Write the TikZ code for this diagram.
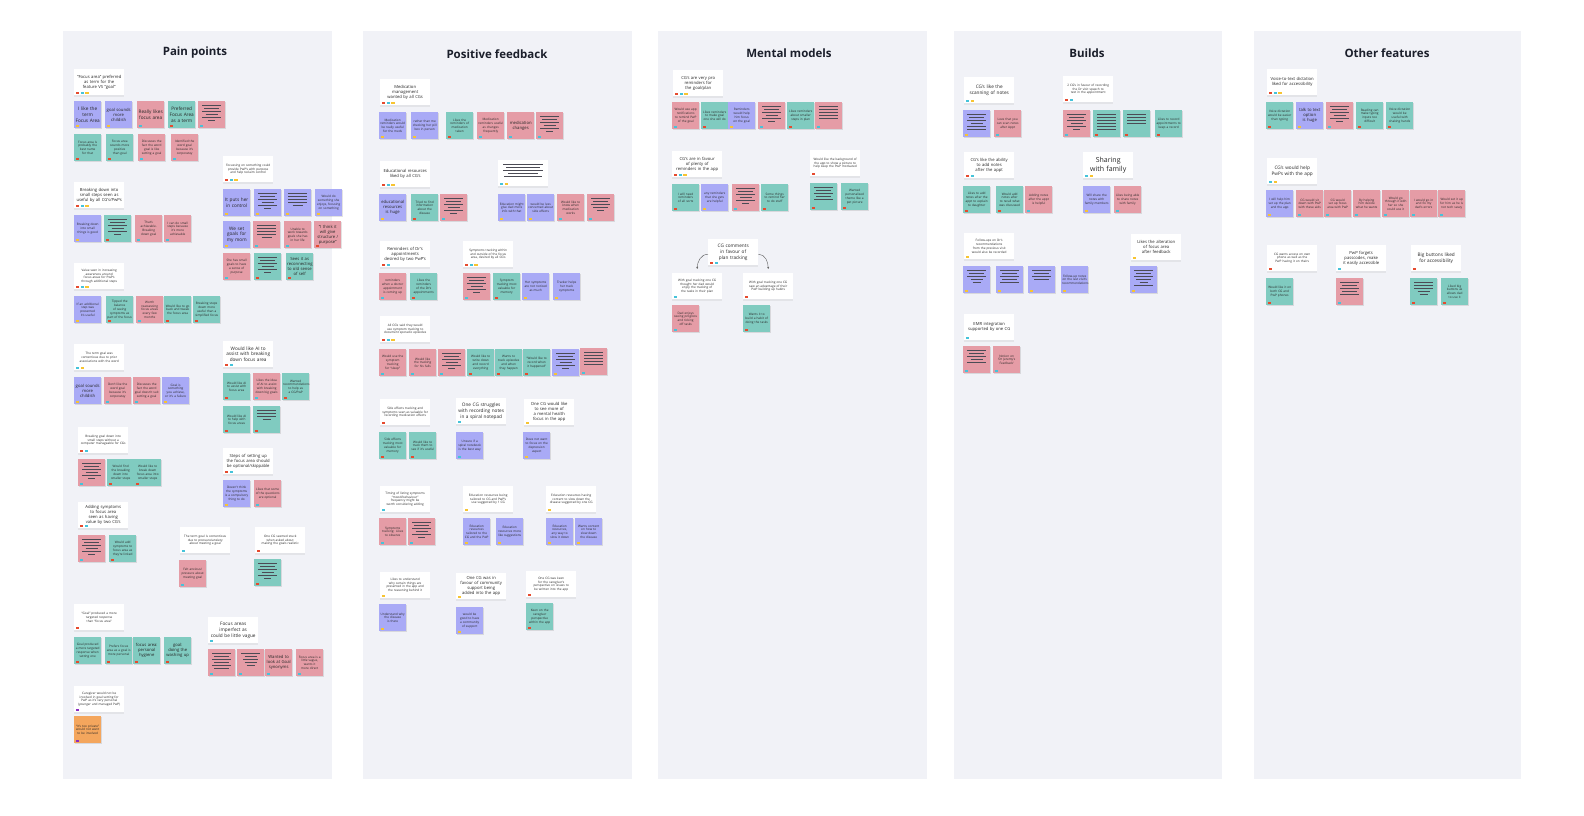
\documentclass[tikz,border=0pt]{standalone}
\usepackage{fontspec}
\setmainfont{Open Sans}
\usepackage{tikz}
\usetikzlibrary{arrows.meta,shadows}
\hyphenpenalty=10000
\exhyphenpenalty=10000
\definecolor{cpanel}{HTML}{F1F2F7}
\definecolor{cpur}{HTML}{A9AAF6}
\definecolor{cteal}{HTML}{80CBC0}
\definecolor{cpink}{HTML}{E59CA6}
\definecolor{corange}{HTML}{F4A65D}
\definecolor{tred}{HTML}{E64A2E}
\definecolor{tcyan}{HTML}{45C3DA}
\definecolor{tyel}{HTML}{F7C431}
\definecolor{tpurp}{HTML}{8B2CC0}
\definecolor{ink}{HTML}{4B4B55}
\definecolor{titlecol}{HTML}{1B1F2B}
\newcommand\szA{\fontsize{3.1}{3.8}\selectfont}
\newcommand\szB{\fontsize{4.2}{5.1}\selectfont}
\newcommand\szC{\fontsize{4.7}{5.8}\selectfont}
\newcommand\szD{\fontsize{7}{8.4}\selectfont}
\newcommand{\stick}[6]{\node[stick,#4] (#1) at (#2,#3) {#6};
  \fill[#5] ([shift={(1.7,-1.3)}]#1.south west) rectangle ++(3.7,-2.4);}
\newcommand{\card}[6]{\node[card,#4] (#1) at (#2,#3) {#6};
  \foreach \tg [count=\n from 0] in {#5}
    \fill[\tg] ([shift={(1.7+4.8*\n,-1.3)}]#1.south west) rectangle ++(3.7,-2.4);}

\begin{document}
\begin{tikzpicture}[x=1pt,y=-1pt,
  stick/.style={anchor=north west,minimum width=27pt,minimum height=27pt,text width=25pt,inner sep=1pt,
    align=center,font=\szA,text=black!85,drop shadow={shadow xshift=0.4pt,shadow yshift=-1.2pt,opacity=0.22}},
  card/.style={anchor=north west,fill=white,minimum width=50pt,minimum height=26pt,text width=46pt,inner sep=2pt,
    align=center,font=\szB,text=black!85,drop shadow={shadow xshift=0pt,shadow yshift=-1.5pt,opacity=0.12}},
  nP/.style={fill=cpur},nT/.style={fill=cteal},nR/.style={fill=cpink},nO/.style={fill=corange},
  fA/.style={font=\szA},fB/.style={font=\szB},fC/.style={font=\szC},fD/.style={font=\szD},
  redact/.style={path picture={\foreach \w [count=\k from 0] in {#1}
    {\draw[ink,line width=0.7pt] ([xshift={-\w/2},yshift={-4.5-3*\k}]path picture bounding box.north) -- ++(\w,0);}}},
  redact/.default={19,15,19,12,19,7},
  ttl/.style={font=\fontsize{11.5}{14}\selectfont\bfseries,text=titlecol}]
\useasboundingbox (0,0) rectangle (1584,816);
\fill[white] (0,0) rectangle (1584,816);
\fill[cpanel] (63,31) rectangle (332,779);
\fill[cpanel] (363,31) rectangle (632,779);
\fill[cpanel] (658,31) rectangle (927,779);
\fill[cpanel] (954,31) rectangle (1222,779);
\fill[cpanel] (1254,31) rectangle (1521,779);
\node[ttl] (tpp) at (195,53) {Pain points};
\node[ttl] (tpf) at (497,54) {Positive feedback};
\node[ttl] (tmm) at (789,53) {Mental models};
\node[ttl] (tbd) at (1087,53) {Builds};
\node[ttl] (tof) at (1387,53) {Other features};

% pain points
\card{hpp1}{74}{69}{fB}{tred,tcyan,tyel}{“Focus area” preferred as term for the feature VS “goal”}
\stick{pp1}{74}{101}{nP,fC}{tyel}{I like the term Focus Area}
\stick{pp2}{105}{101}{nP,fB}{tyel}{goal sounds more childish}
\stick{pp3}{137}{101}{nR,fC}{tcyan}{Really likes focus area}
\stick{pp4}{168}{101}{nT,fC}{tred}{Preferred Focus Area as a term}
\stick{pp5}{198}{101}{nR,redact}{tcyan}{}
\stick{pp6}{74}{134}{nT}{tred}{Focus area is probably the best name for that}
\stick{pp7}{106}{134}{nT}{tred}{Focus area sounds more positive than goal}
\stick{pp8}{138}{134}{nR}{tcyan}{Discusses the fact the word goal is like setting a goal}
\stick{pp9}{171}{134}{nR}{tcyan}{Identified the word goal because it's corporatey}
\card{hpp2}{223}{156}{fA}{tred,tcyan,tyel}{Focussing on something could provide PwP's with purpose and help reclaim control}
\card{hpp3}{74}{182}{fB}{tred,tcyan,tyel}{Breaking down into small steps seen as useful by all CG's/PwPs}
\stick{pp10}{74}{215}{nP}{tyel}{Breaking down into small things is good}
\stick{pp11}{104}{215}{nT,redact}{tred}{}
\stick{pp12}{135}{215}{nR}{tcyan}{That's achievable. Breaking down goal}
\stick{pp13}{164}{215}{nR}{tcyan}{I can do small steps because it's more achievable}
\stick{pp14}{223}{189}{nP,fC}{tyel}{It puts her in control}
\stick{pp15}{254}{189}{nP,redact}{tyel}{}
\stick{pp16}{284}{189}{nP,redact={19,19,19,19,10}}{tyel}{}
\stick{pp17}{315}{189}{nP}{tyel}{Would do something she enjoys, focusing on something}
\stick{pp18}{223}{221}{nP,fC}{tyel}{We set goals for my mom}
\stick{pp19}{253}{221}{nR,redact={19,19,19,19,10}}{tcyan}{}
\stick{pp20}{284}{221}{nR}{tcyan}{Unable to work towards goals she has in her life}
\stick{pp21}{314}{221}{nR,fB}{tred}{“I think it will give structure / purpose”}
\stick{pp22}{223}{253}{nR}{tcyan}{She has small goals to have a sense of purpose}
\stick{pp23}{254}{253}{nT,redact}{tred}{}
\stick{pp24}{286}{253}{nT,fB}{tred}{Sees it as reconnecting to old sense of self}
\card{hpp4}{74}{263}{fA}{tred,tcyan,tyel}{Value seen in increasing awareness around focus areas for PwP's through additional steps}
\stick{pp25}{74}{296}{nP}{tyel}{If an additional step was presented it's useful}
\stick{pp26}{106}{296}{nT}{tred}{Tipped the balance of seeing symptoms as part of the focus}
\stick{pp27}{136}{296}{nR}{tcyan}{Worth reassessing focus areas every few months}
\stick{pp28}{164}{296}{nT}{tred}{Would like to go back and tweak the focus area}
\stick{pp29}{193}{296}{nT}{tred}{Breaking steps down more useful than a simplified focus}
\card{hpp5}{74}{344}{fA}{tcyan,tyel}{The term goal was contentious due to prior associations with the word}
\stick{pp30}{74}{377}{nP,fB}{tyel}{goal sounds more childish}
\stick{pp31}{104}{377}{nR}{tcyan}{Don't like the word goal because it's corporatey}
\stick{pp32}{133}{377}{nR}{tcyan}{Discusses the fact the word goal doesn't suit setting a goal}
\stick{pp33}{162}{377}{nP}{tyel}{Goal is something you achieve, or it's a failure}
\card{hpp6}{223}{341}{fC}{tred,tcyan}{Would like AI to assist with breaking down focus area}
\stick{pp34}{223}{373}{nT}{tred}{Would like AI to assist with focus area}
\stick{pp35}{253}{373}{nR}{tcyan}{Likes the idea of AI to assist with breaking down big goals}
\stick{pp36}{282}{373}{nT}{tred}{Wanted recommendations to help as a CG/PwP}
\stick{pp37}{223}{406}{nT}{tred}{Would like AI to help with focus areas}
\stick{pp38}{253}{406}{nT,redact={19,19,19,8}}{tred}{}
\card{hpp7}{78}{427}{fA}{tred,tcyan}{Breaking goal down into small steps without a computer manageable for CGs}
\stick{pp39}{78}{459}{nR,redact}{tcyan}{}
\stick{pp40}{107}{459}{nT}{tred}{Would find the breaking down into smaller steps}
\stick{pp41}{134}{459}{nT}{tred}{Would like to break down focus area into smaller steps}
\card{hpp8}{223}{448}{fB}{tred,tcyan}{Steps of setting up the focus area should be optional/skippable}
\stick{pp42}{223}{480}{nP}{tyel}{Doesn't think the symptoms is a compulsory thing to do}
\stick{pp43}{254}{480}{nR}{tcyan}{Likes that some of the questions are optional}
\card{hpp9}{78}{502}{fB}{tred,tcyan}{Adding symptoms to focus area seen as having value by two CG's}
\card{hpp10}{180}{527}{fA}{tcyan}{The term goal is contentious due to pressure/anxiety about meeting a goal}
\card{hpp11}{255}{527}{fA}{tred}{One CG seemed stuck when asked about making the goals realistic}
\stick{pp44}{78}{535}{nR,redact}{tcyan}{}
\stick{pp45}{109}{535}{nT}{tred}{Would add symptoms to focus area as they're linked}
\stick{pp46}{179}{560}{nR}{tcyan}{Felt anxious/ pressure about meeting goal}
\stick{pp47}{254}{559}{nT,redact}{tred}{}
\card{hpp12}{74}{604}{fA}{tred}{“Goal” produced a more targeted response than “focus area”}
\stick{pp48}{74}{637}{nT}{tred}{Goal produced a more targeted response when setting one}
\stick{pp49}{105}{637}{nT}{tred}{Prefers focus area as a goal is more personal}
\stick{pp50}{133}{637}{nT,fB}{tred}{focus area: personal hygiene}
\stick{pp51}{164}{637}{nT,fB}{tred}{goal: doing the washing up}
\card{hpp13}{208}{617}{fC}{tcyan}{Focus areas imperfect as could be little vague}
\stick{pp52}{208}{649}{nR,redact={19,15,19,15,19,15}}{tcyan}{}
\stick{pp53}{237}{649}{nR,redact={19,12,15,12,8}}{tcyan}{}
\stick{pp54}{265}{649}{nR,fB}{tcyan}{Wanted to look at Goal synonyms}
\stick{pp55}{296}{649}{nR}{tcyan}{Focus area is a little vague, wants it more direct}
\card{hpp14}{74}{686}{fA}{tpurp}{Caregiver would not be involved in goal setting for PwP as it's very personal (younger and managed PwP)}
\stick{pp56}{74}{716}{nO}{tpurp}{“It's too private” would not want to be involved}

% positive feedback
\card{hpf1}{380}{79}{fB}{tred,tcyan,tyel}{Medication management wanted by all CGs}
\stick{pf1}{379}{112}{nP}{tyel}{Medication reminders would be really useful for the meds}
\stick{pf2}{411}{112}{nP}{tyel}{rather than me checking her pill box in person}
\stick{pf3}{446}{112}{nT}{tred}{Likes the reminders of medication taken}
\stick{pf4}{477}{112}{nR}{tcyan}{Medication reminders useful as changes frequently}
\stick{pf5}{507}{112}{nR,fB}{tcyan}{medication changes}
\stick{pf6}{536}{112}{nR,redact}{tcyan}{}
\card{hpf2}{380}{161}{fB}{tred,tcyan,tyel}{Educational resources liked by all CG's}
\stick{pf7}{379}{194}{nP,fB}{tyel}{educational resources is huge}
\stick{pf8}{411}{194}{nT}{tred}{Tried to find information about the disease}
\stick{pf9}{440}{194}{nR,redact}{tcyan}{}
\card{hpf3}{498}{160}{redact={40,34,40,30,38}}{tcyan,tyel}{}
\stick{pf10}{498}{194}{nP}{tyel}{Education might give dad more info with that}
\stick{pf11}{527}{194}{nP}{tyel}{would be less concerned about side effects}
\stick{pf12}{557}{194}{nR}{tcyan}{Would like to know when medication works}
\stick{pf13}{587}{194}{nR,redact={19,15,19,15,7}}{tcyan}{}
\card{hpf4}{380}{241}{fB}{tred,tcyan}{Reminders of Dr's appointments desired by two PwP's}
\card{hpf5}{463}{241}{fA}{tred,tcyan,tyel}{Symptoms tracking within and outside of the focus area, desired by all CG's}
\stick{pf14}{379}{273}{nR}{tcyan}{reminders when a doctor appointment is coming up}
\stick{pf15}{410}{273}{nT}{tred}{Likes the reminders of the Dr's appointments}
\stick{pf16}{463}{273}{nR,redact}{tcyan}{}
\stick{pf17}{493}{273}{nT}{tred}{Symptom tracking most valuable for memory}
\stick{pf18}{522}{273}{nP}{tyel}{Her symptoms are not noticed as much}
\stick{pf19}{553}{273}{nP}{tyel}{Tracker helps her track symptoms}
\card{hpf6}{380}{316}{fA}{tred,tcyan,tyel}{All CG's said they would use symptom tracking to document sporadic episodes}
\stick{pf20}{379}{349}{nR}{tcyan}{Would use the symptom tracking for “sleep”}
\stick{pf21}{409}{349}{nR}{tcyan}{Would like the tracking for his falls}
\stick{pf22}{438}{349}{nR,redact}{tcyan}{}
\stick{pf23}{467}{349}{nT}{tred}{Would like to write down and record everything}
\stick{pf24}{495}{349}{nT}{tred}{Wants to track episodes and when they happen}
\stick{pf25}{523}{349}{nT}{tred}{“Would like to record when it happened”}
\stick{pf26}{552}{349}{nP,redact}{tyel}{}
\stick{pf27}{580}{348}{nR,redact={19,19,19,19,19}}{tcyan}{}
\card{hpf7}{380}{399}{fA}{tred}{Side effects tracking and symptoms seen as valuable for recording medication effects}
\card{hpf8}{456}{398}{fC}{tcyan}{One CG struggles with recording notes in a spiral notepad}
\card{hpf9}{524}{399}{fB}{tyel}{One CG would like to see more of a mental health focus in the app}
\stick{pf28}{379}{432}{nT}{tred}{Side effects tracking most valuable for memory}
\stick{pf29}{409}{432}{nT}{tred}{Would like to track them to see if it's useful}
\stick{pf30}{456}{432}{nP}{tcyan}{Unsure if a spiral notebook is the best way}
\stick{pf31}{523}{432}{nP}{tyel}{Does not want to focus on the depression aspect}
\card{hpf10}{380}{486}{fA}{tcyan}{Timing of listing symptoms “mood/behaviour” frequency might be worth considering adding}
\card{hpf11}{463}{486}{fA}{tyel}{Education resources being tailored to CG and PwP's use suggested by 1 CG}
\card{hpf12}{546}{486}{fA}{tyel}{Education resources having content to slow down the disease suggested by one CG}
\stick{pf32}{379}{518}{nR}{tcyan}{Symptoms tracking: Likes to observe}
\stick{pf33}{408}{518}{nR,redact}{tcyan}{}
\stick{pf34}{463}{518}{nP}{tyel}{Education resources tailored to the CG and the PwP}
\stick{pf35}{496}{518}{nP}{tyel}{Education resources more like suggestions}
\stick{pf36}{546}{518}{nP}{tyel}{Education resources, any way to slow it down}
\stick{pf37}{575}{518}{nP}{tyel}{Wants content on how to slow down the disease}
\card{hpf13}{380}{572}{fA}{tyel}{Likes to understand why certain things are presented in the app and the reasoning behind it}
\card{hpf14}{456}{573}{fB}{tyel}{One CG was in favour of community support being added into the app}
\card{hpf15}{526}{571}{fA}{tred}{One CG was keen for the caregiver's perspective on issues to be written into the app}
\stick{pf38}{379}{604}{nP}{tyel}{Understand why the disease is there}
\stick{pf39}{456}{607}{nP}{tyel}{would be good to have a community of support}
\stick{pf40}{526}{603}{nT}{tred}{Keen on the caregiver perspective within the app}

% mental models
\card{hmm1}{673}{70}{fB}{tred,tcyan,tyel}{CG's are very pro reminders for the goal/plan}
\stick{mm1}{672}{102}{nR}{tcyan}{Would use app notifications to remind PwP of the goal}
\stick{mm2}{701}{102}{nT}{tred}{Likes reminders to make goal one she will do}
\stick{mm3}{728}{102}{nP}{tyel}{Reminders would help him focus on the goal}
\stick{mm4}{758}{102}{nR,redact}{tcyan}{}
\stick{mm5}{787}{102}{nT}{tred}{Likes reminders about smaller steps in plan}
\stick{mm6}{815}{102}{nR,redact={19,19,19,19,19}}{tcyan}{}
\card{hmm2}{672}{151}{fB}{tred,tcyan,tyel}{CG's are in favour of plenty of reminders in the app}
\stick{mm7}{672}{184}{nT}{tred}{I will need reminders of all sorts}
\stick{mm8}{701}{184}{nP}{tyel}{any reminders that she gets are helpful}
\stick{mm9}{732}{184}{nR,redact}{tcyan}{}
\stick{mm10}{761}{184}{nT}{tred}{Some things to remind her to do stuff}
\card{hmm3}{810}{150}{fA}{tred}{Would like the background of the app to show a picture to help keep the PwP motivated}
\stick{mm11}{810}{183}{nT,redact={19,15,19,15,19}}{tred}{}
\stick{mm12}{841}{183}{nT}{tred}{Wanted personalised theme like a pet picture}
\card{hmm4}{708}{239}{fC}{tred,tcyan}{CG comments in favour of plan tracking}
\card{hmm5}{672}{273}{fA}{tcyan}{With goal tracking one CG thought her dad would enjoy the tracking of the tasks in their plan}
\card{hmm6}{743}{273}{fA}{tred}{With goal tracking one CG saw an advantage of their PwP building up habits}
\draw[gray!70!black,line width=0.4pt,-{Stealth[length=2.2pt,width=2pt]}] ([yshift=-2pt]hmm4.west) to[out=180,in=90] ([yshift=4pt]hmm5.north);
\draw[gray!70!black,line width=0.4pt,-{Stealth[length=2.2pt,width=2pt]}] ([yshift=-2pt]hmm4.east) to[out=0,in=90] ([yshift=4pt]hmm6.north);
\stick{mm13}{672}{305}{nR}{tcyan}{Dad enjoys seeing progress and ticking off tasks}
\stick{mm14}{743}{305}{nT}{tred}{Wants it to build a habit of doing the tasks}

% builds
\card{hbd1}{964}{77}{fC}{tcyan,tyel}{CG's like the scanning of notes}
\card{hbd2}{1063}{76}{fA}{tred,tcyan}{2 CG's in favour of recording the Dr visit speech to text in the appointment}
\stick{bd1}{963}{110}{nP,redact={19,15,19,12,19,19}}{tyel}{}
\stick{bd2}{994}{110}{nR}{tcyan}{Love that you can scan notes after Appt}
\stick{bd3}{1063}{110}{nR,redact}{tcyan}{}
\stick{bd4}{1093}{110}{nT,redact={19,19,19,19,19,19}}{tred}{}
\stick{bd5}{1123}{110}{nT,redact={19,19,19,19}}{tred}{}
\stick{bd6}{1155}{110}{nT}{tred}{Likes to record appointments to keep a record}
\card{hbd3}{964}{152}{fB}{tred,tcyan}{CG's like the ability to add notes after the appt}
\card{hbd4}{1083}{152}{fD}{tcyan,tyel}{Sharing with family}
\stick{bd7}{963}{186}{nT}{tred}{Likes to add notes after the appt to explain to daughter}
\stick{bd8}{996}{186}{nT}{tred}{Would add notes after to recall what was discussed}
\stick{bd9}{1025}{186}{nR}{tcyan}{Adding notes after the appt is helpful}
\stick{bd10}{1083}{186}{nP}{tyel}{Will share the notes with family members}
\stick{bd11}{1114}{186}{nR}{tcyan}{Likes being able to share notes with family}
\card{hbd5}{964}{233}{fA}{tyel}{Follow-ups on Dr's recommendations from the previous visit would also be recorded}
\card{hbd6}{1131}{234}{fB}{tyel}{Likes the alteration of focus area after feedback}
\stick{bd12}{963}{266}{nP,redact={19,15,19,12,8}}{tyel}{}
\stick{bd13}{996}{266}{nP,redact={19,15,19,15,19}}{tyel}{}
\stick{bd14}{1028}{266}{nP,redact={19,15,19,15}}{tyel}{}
\stick{bd15}{1061}{266}{nP}{tyel}{Follow-up notes on the last visit's recommendations}
\stick{bd16}{1130}{266}{nP,redact={19,15,19,15,8,19}}{tyel}{}
\card{hbd7}{964}{314}{fB}{tcyan}{EMR integration supported by one CG}
\stick{bd17}{963}{346}{nR,redact={19,15,19,12,19}}{tcyan}{}
\stick{bd18}{993}{346}{nR,fA}{tcyan}{Notion on ‘Dr Jeremy's Feedback’}

% other features
\card{hof1}{1267}{69}{fB}{tred,tcyan,tyel}{Voice-to-text dictation liked for accessibility}
\stick{of1}{1266}{102}{nT}{tred}{Voice dictation would be easier than typing}
\stick{of2}{1296}{102}{nP,fB}{tyel}{talk to text option is huge}
\stick{of3}{1326}{102}{nR,redact}{tcyan}{}
\stick{of4}{1356}{102}{nT}{tred}{Reading can make typing inputs too difficult}
\stick{of5}{1386}{102}{nT}{tred}{Voice dictation would be useful with shaking hands}
\card{hof2}{1267}{158}{fC}{tcyan,tyel}{CG's would help PwPs with the app}
\stick{of6}{1266}{190}{nP}{tyel}{I will help him set up the plan and the app}
\stick{of7}{1296}{190}{nR}{tcyan}{CG would sit down with PwP with these aids}
\stick{of8}{1324}{190}{nR}{tcyan}{CG would set up focus area with PwP}
\stick{of9}{1353}{190}{nR}{tcyan}{By helping him decide what he wants}
\stick{of10}{1382}{190}{nR}{tcyan}{Would go through it with her so she could use it}
\stick{of11}{1410}{190}{nR}{tcyan}{I would go in and fix my dad's errors}
\stick{of12}{1438}{190}{nR}{tcyan}{Would set it up for him as he is not tech savvy}
\card{hof3}{1267}{245}{fA}{tred}{CG wants access on own phone as well as the PwP having it on theirs}
\card{hof4}{1336}{245}{fB}{tcyan}{PwP forgets passcodes, make it easily accessible}
\card{hof5}{1411}{245}{fC}{tred}{Big buttons liked for accessibility}
\stick{of13}{1266}{278}{nT}{tred}{Would like it on both CG and PwP phones}
\stick{of14}{1336}{278}{nR,redact={19,15,19,15,19}}{tcyan}{}
\stick{of15}{1410}{278}{nT,redact={19,19,19,12,8}}{tred}{}
\stick{of16}{1441}{278}{nT}{tred}{Liked big buttons as allows dad to use it}
\end{tikzpicture}
\end{document}
